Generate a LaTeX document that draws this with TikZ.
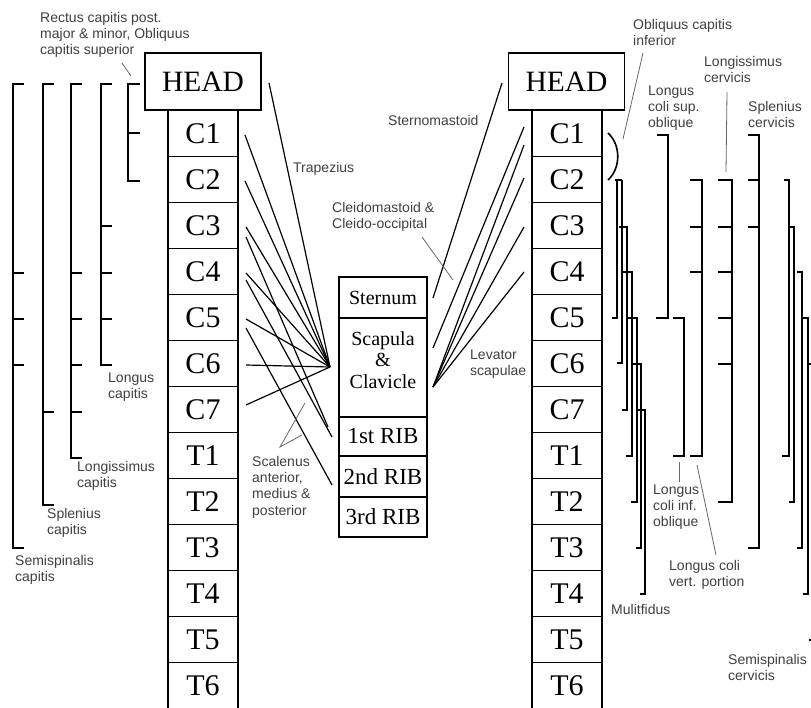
\documentclass[tikz,border=0pt]{standalone}
\usepackage{fontspec}
\setmainfont{Liberation Serif}
\newfontfamily\labelfont{Liberation Sans}
\begin{document}
\begin{tikzpicture}[x=1pt,y=-1pt,
  boxline/.style={draw, line width=1.4pt, inner sep=0pt},
  vert/.style={boxline, minimum width=70pt, minimum height=46pt, font=\fontsize{30}{30}\selectfont},
  headbox/.style={boxline, minimum width=116pt, minimum height=57pt, font=\fontsize{29.5}{29.5}\selectfont},
  midbox/.style={boxline, minimum width=88pt},
  fan/.style={line width=1.2pt, black},
  br/.style={line width=1.6pt, black},
  lead/.style={line width=0.8pt, black!60},
  lbl/.style={font=\labelfont\fontsize{14}{16.2}\selectfont, text=black!75, inner sep=0pt, align=left, anchor=north west}]
\useasboundingbox (0,0) rectangle (811,708);
\fill[white] (0,0) rectangle (811,708);

% ---------- vertebral columns ----------
\node[headbox] (LH) at (203,81.5) {HEAD};
\node[headbox] (RH) at (566.5,81.5) {HEAD};
\foreach \n [count=\i] in {C1,C2,C3,C4,C5,C6,C7,T1,T2,T3,T4,T5,T6}{
  \node[vert] (L\n) at (203,87.5+46*\i) {\n};
  \node[vert] (R\n) at (567,87.5+46*\i) {\n};
}

% ---------- middle boxes ----------
\node[midbox, minimum height=41pt, font=\fontsize{20}{20}\selectfont] (stern) at (383,297.5) {Sternum};
\node[midbox, minimum height=99pt] (scap) at (383,367.5) {};
\node[font=\fontsize{20}{21.5}\selectfont, align=center, inner sep=0pt] (scaptxt) at (383,360) {Scapula\\\&\\Clavicle};
\node[midbox, minimum height=39pt, font=\fontsize{23}{23}\selectfont] (rib1) at (383,436.5) {1st RIB};
\node[midbox, minimum height=41pt, font=\fontsize{23}{23}\selectfont] (rib2) at (383,476.5) {2nd RIB};
\node[midbox, minimum height=40pt, font=\fontsize{23}{23}\selectfont] (rib3) at (383,517) {3rd RIB};

% ---------- left fan ----------
\coordinate (lc) at (330,367);
\coordinate (lr1a) at (328,427);
\coordinate (lr1b) at (332,437);
\coordinate (lr2) at (332,485);
\coordinate (ltr) at (269,83);
\coordinate (l1) at (245,135);
\coordinate (l2) at (245,181);
\coordinate (l3a) at (246,227);
\coordinate (l3b) at (246,237);
\coordinate (l4a) at (246,273);
\coordinate (l4b) at (246,280);
\coordinate (l5a) at (246,319);
\coordinate (l5b) at (246,328);
\coordinate (l6) at (246,365);
\coordinate (l7) at (246,405);
\foreach \s in {ltr,l1,l2,l3a,l4a,l5a,l6,l7} \draw[fan] (\s) -- (lc);
\draw[fan] (l3b) -- (lr1a);
\draw[fan] (l4b) -- (lr1b);
\draw[fan] (l5b) -- (lr2);

% ---------- right fan ----------
\coordinate (rc) at (433,387);
\coordinate (rst) at (433,298);
\coordinate (rsc) at (433,348);
\coordinate (rh) at (502,83);
\coordinate (r1a) at (524,127);
\coordinate (r1b) at (524,145);
\coordinate (r2) at (524,178);
\coordinate (r3) at (524,227);
\coordinate (r4) at (524,272);
\draw[fan] (rh) -- (rst);
\draw[fan] (r1a) -- (rsc);
\foreach \s in {r1b,r2,r3,r4} \draw[fan] (\s) -- (rc);

% ---------- left brackets ----------
% Semispinalis capitis
\draw[br] (24,84) -- (13,84) -- (13,548) -- (24,548);
\foreach \y in {273,319,365} \draw[br] (13,\y) -- (24,\y);
% Splenius capitis
\draw[br] (54,84) -- (43,84) -- (43,505) -- (54,505);
\draw[br] (43,412) -- (54,412);
% Longissimus capitis
\draw[br] (82,84) -- (71,84) -- (71,458) -- (82,458);
\foreach \y in {273,319,365,412} \draw[br] (71,\y) -- (82,\y);
% Longus capitis
\draw[br] (112,84) -- (101,84) -- (101,365) -- (112,365);
\foreach \y in {226,273,319} \draw[br] (101,\y) -- (112,\y);
% Rectus capitis
\draw[br] (140,84) -- (128,84) -- (128,181) -- (140,181);
\draw[br] (128,133) -- (140,133);

% ---------- right brackets ----------
% Obliquus capitis inferior
\draw[br] (608,133) .. controls (621,145) and (621,168) .. (608,180);
% Multifidus
\draw[br] (615,180) -- (622,180);
\draw[br] (617,180) -- (617,318) -- (612,318);
\draw[br] (622,180) -- (622,363) -- (617,363);
\draw[br] (619,227) -- (627,227) -- (627,410) -- (622,410);
\draw[br] (623,272) -- (632,272) -- (632,456) -- (626,456);
\draw[br] (628,318) -- (637,318) -- (637,502) -- (631,502);
\draw[br] (633,364) -- (641,364) -- (641,548) -- (636,548);
\draw[br] (637,410) -- (645,410) -- (645,594) -- (640,594);
% Longus coli sup. oblique
\draw[br] (657,135) -- (668,135) -- (668,318) -- (656,318);
% Longus coli inf. oblique
\draw[br] (673,318) -- (684,318) -- (684,456) -- (673,456);
% Longus coli vert. portion
\draw[br] (690,180) -- (702,180) -- (702,456) -- (690,456);
\foreach \y in {227,272} \draw[br] (690,\y) -- (702,\y);
% Longissimus cervicis
\draw[br] (718,180) -- (732,180) -- (732,502) -- (718,502);
\foreach \y in {227,272,318,364} \draw[br] (718,\y) -- (732,\y);
% Splenius cervicis
\draw[br] (748,135) -- (759,135) -- (759,548) -- (748,548);
\foreach \y in {180,227} \draw[br] (748,\y) -- (759,\y);
% Semispinalis cervicis
\draw[br] (784,180) -- (789,180) -- (789,456) -- (782,456);
\draw[br] (789,227) -- (794,227) -- (794,502) -- (789,502);
\draw[br] (797,272) -- (802,272) -- (802,548) -- (797,548);
\draw[br] (803,318) -- (808,318) -- (808,594) -- (803,594);
\draw[br] (809,364) -- (814,364) -- (814,640) -- (809,640);

% ---------- leaders ----------
\draw[lead] (122,63) -- (131,76);
\draw[lead] (305,403) -- (280,447) -- (302,435);
\draw[lead] (422,237) -- (453,280);
\draw[lead] (623,139) -- (643,53);
\draw[lead] (727,92) -- (726,172);
\draw[lead] (679,462) -- (679,482);
\draw[lead] (697,465) -- (716,555);

% ---------- labels ----------
\node[lbl] (tRect) at (40,11) {\strut Rectus capitis post.\\major \& minor, Obliquus\\capitis superior};
\node[lbl] (tTrap) at (293,161) {\strut Trapezius};
\node[lbl] (tSter) at (388,114) {\strut Sternomastoid};
\node[lbl] (tCle) at (332,201) {\strut Cleidomastoid \&\\Cleido-occipital};
\node[lbl] (tLev) at (470,348) {\strut Levator\\scapulae};
\node[lbl] (tLoCa) at (108,371) {\strut Longus\\capitis};
\node[lbl] (tLgCa) at (77,460) {\strut Longissimus\\capitis};
\node[lbl] (tSpCa) at (47,507) {\strut Splenius\\capitis};
\node[lbl] (tSeCa) at (15,554) {\strut Semispinalis\\capitis};
\node[lbl] (tScal) at (252,455) {\strut Scalenus\\anterior,\\medius \&\\posterior};
\node[lbl] (tObl) at (633,18) {\strut Obliquus capitis\\inferior};
\node[lbl] (tLgCe) at (704,55) {\strut Longissimus\\cervicis};
\node[lbl] (tLcs) at (648,84) {\strut Longus\\coli sup.\\oblique};
\node[lbl] (tSpCe) at (748,100) {\strut Splenius\\cervicis};
\node[lbl] (tLci) at (653,483) {\strut Longus\\coli inf.\\oblique};
\node[lbl] (tLcv) at (669,559) {\strut Longus coli\\vert. portion};
\node[lbl] (tMul) at (611,603) {\strut Mulitfidus};
\node[lbl] (tSeCe) at (728,653) {\strut Semispinalis\\cervicis};
\end{tikzpicture}
\end{document}
